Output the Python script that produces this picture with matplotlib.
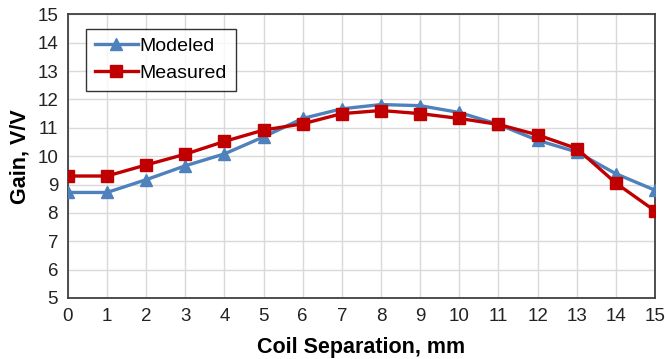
import matplotlib.pyplot as plt

plt.rcParams["font.family"] = ["Liberation Sans", "DejaVu Sans"]

# coil separation (mm) and gain (V/V)
separation = list(range(16))
modeled = [8.72, 8.72, 9.17, 9.66, 10.08, 10.68, 11.33, 11.67, 11.82, 11.78,
           11.54, 11.12, 10.56, 10.15, 9.38, 8.8]
measured = [9.3, 9.3, 9.69, 10.07, 10.52, 10.92, 11.14, 11.5, 11.61, 11.5,
            11.33, 11.12, 10.75, 10.27, 9.05, 8.07]

fig = plt.figure(figsize=(6.65, 3.59), dpi=100)
ax = fig.add_axes([0.102, 0.170, 0.883, 0.790])

ax.plot(separation, modeled, color="#4F81BD", lw=2.4, marker="^", ms=8,
        label="Modeled", zorder=3)
ax.plot(separation, measured, color="#C00000", lw=2.4, marker="s", ms=8,
        label="Measured", zorder=4)

ax.set_xlim(0, 15)
ax.set_ylim(5, 15)
ax.set_xticks(separation)
ax.set_yticks(range(5, 16))
ax.tick_params(length=0, labelsize=13.5, pad=7, colors="#222222")
ax.grid(color="#D9D9D9", lw=1.0)
ax.set_axisbelow(True)
for s in ax.spines.values():
    s.set_color("#404040")
    s.set_linewidth(1.3)

ax.set_xlabel("Coil Separation, mm", fontsize=15.5, fontweight="bold", labelpad=9)
ax.set_ylabel("Gain, V/V", fontsize=15.5, fontweight="bold", labelpad=5)

leg = ax.legend(loc="upper left", bbox_to_anchor=(0.031, 0.95), fontsize=14,
                frameon=True, fancybox=False, edgecolor="black",
                handlelength=2.2, handletextpad=0.1, borderpad=0.45,
                labelspacing=0.5, borderaxespad=0)
leg.get_frame().set_linewidth(1.0)

fig.savefig("out.png", dpi=100)
